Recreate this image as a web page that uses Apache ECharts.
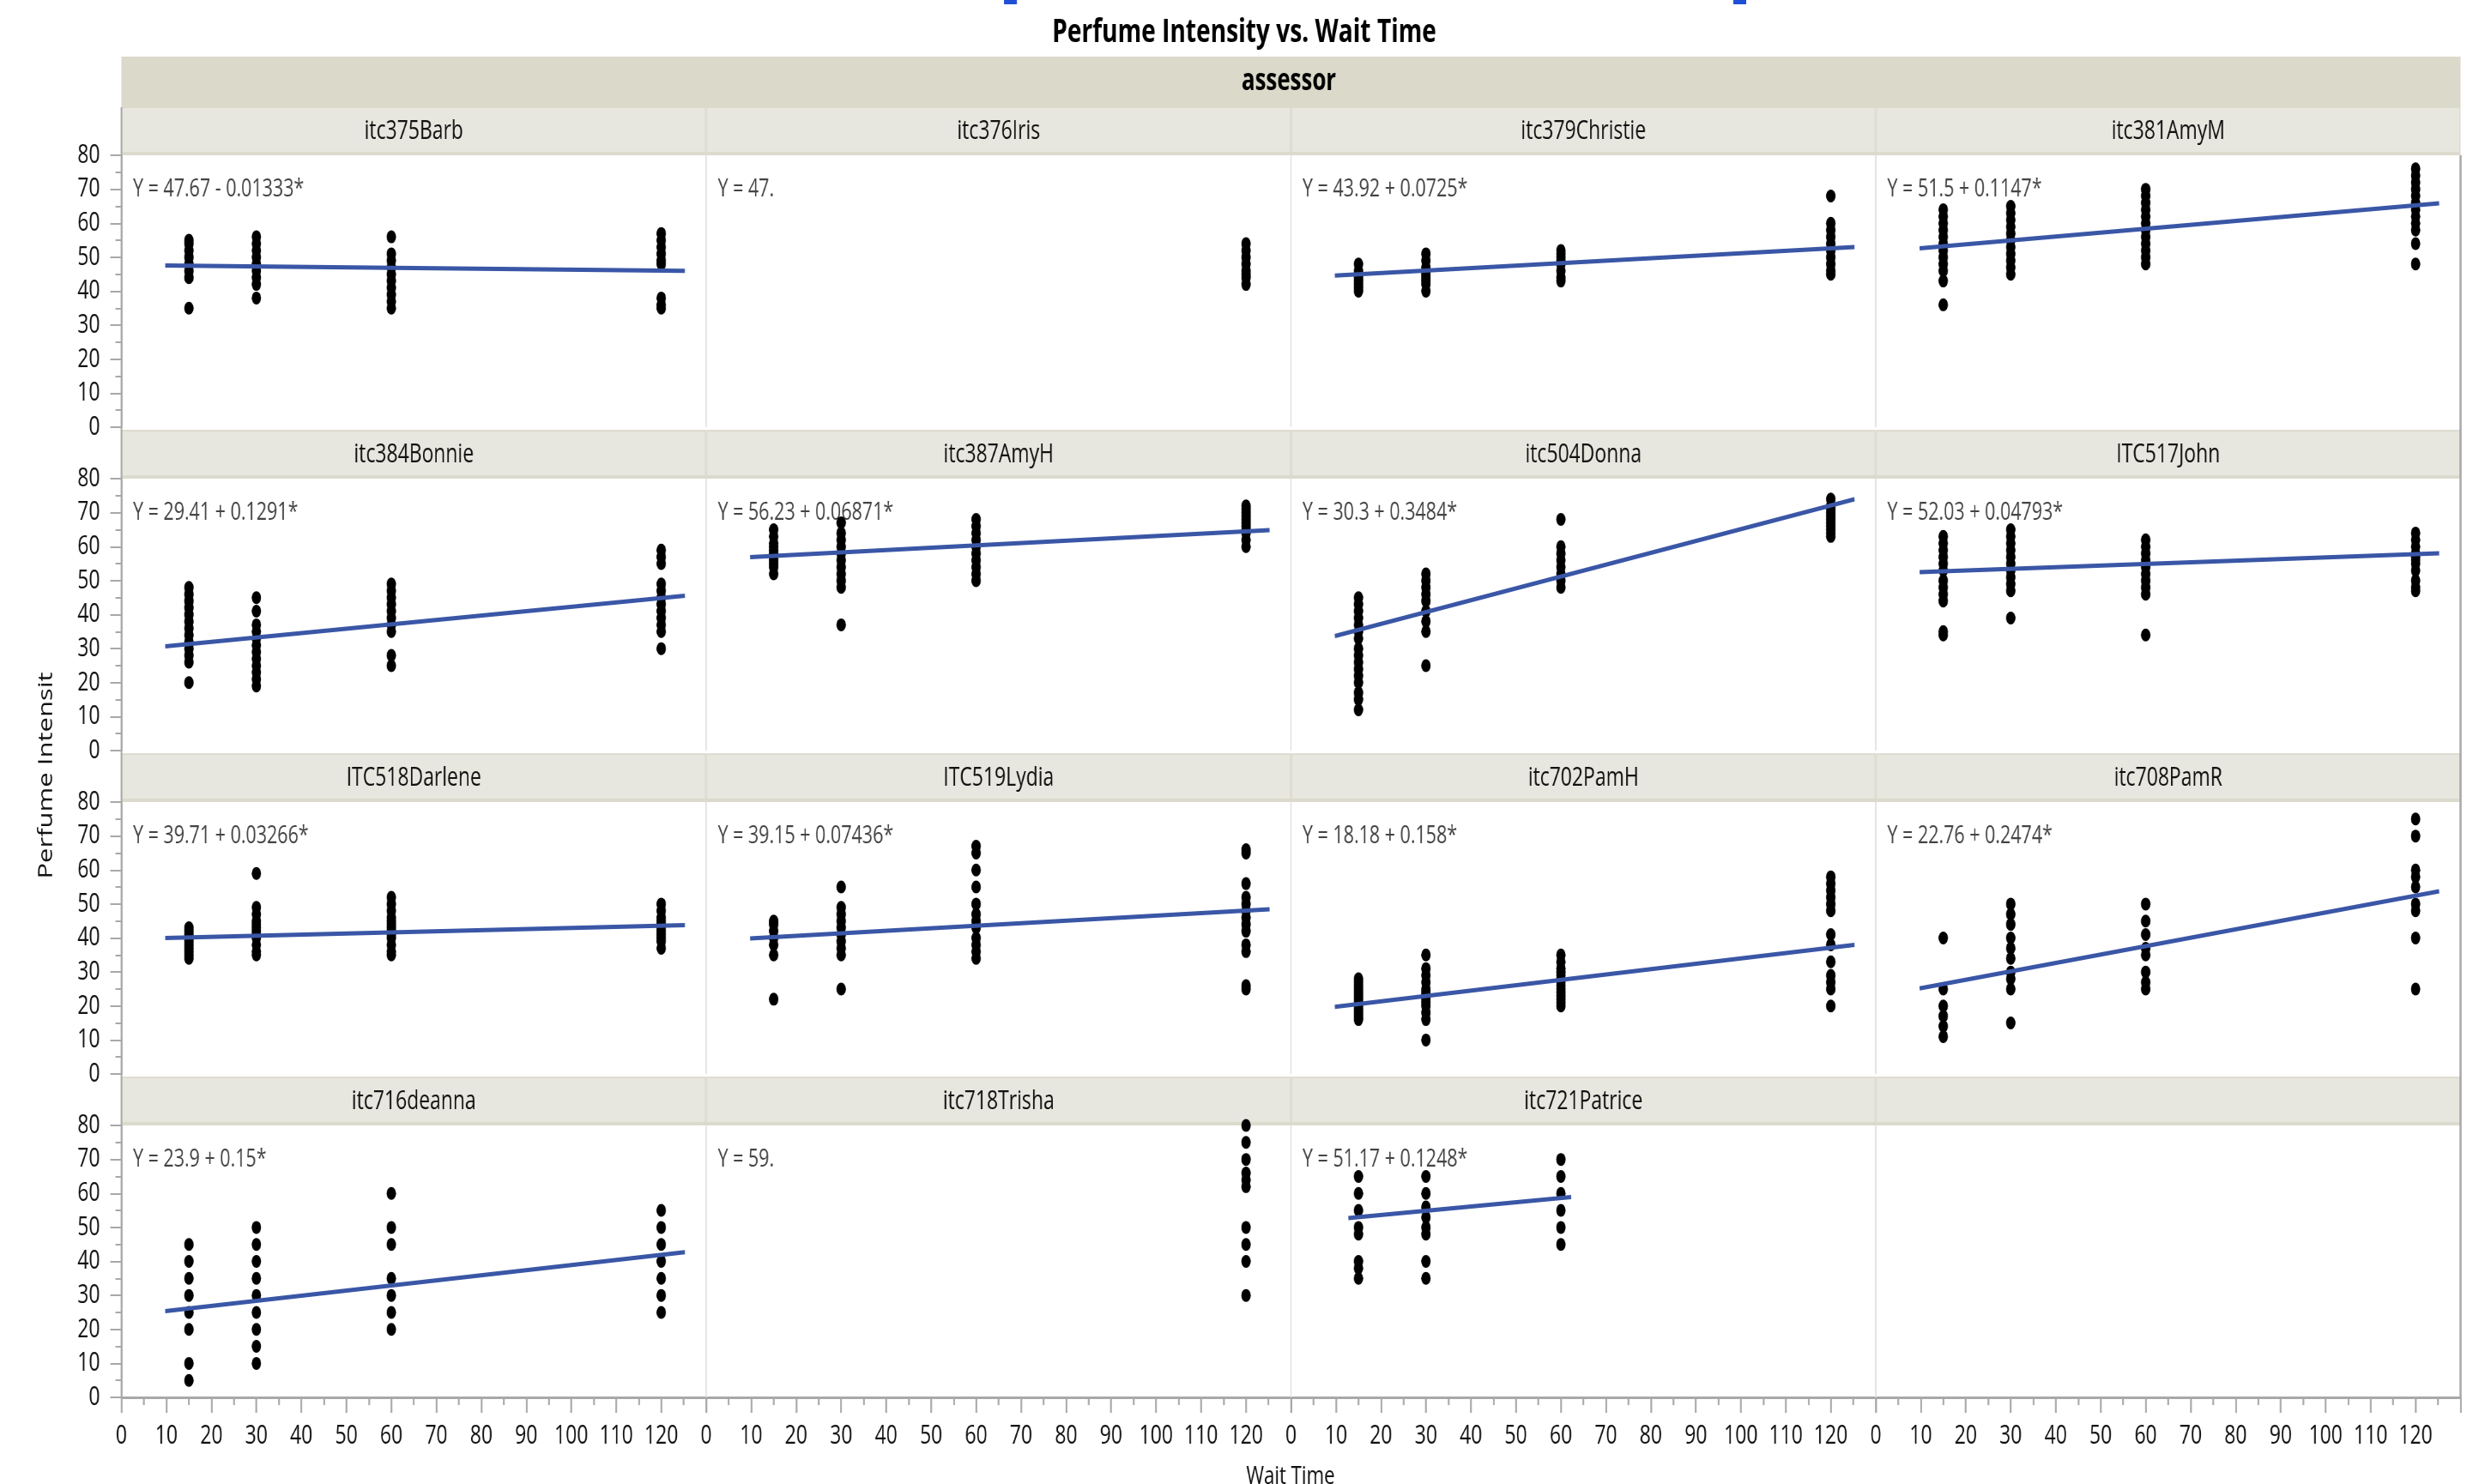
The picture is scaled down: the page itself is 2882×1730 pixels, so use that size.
<!DOCTYPE html>
<html><head><meta charset="utf-8">
<script src="https://cdn.jsdelivr.net/npm/echarts@6/dist/echarts.min.js"></script>
<style>
html,body{margin:0;padding:0;overflow:hidden;background:#fff;width:2882px;height:1730px;}
#chart{position:absolute;left:0;top:0;height:1730px;transform-origin:0 0;}
</style></head><body><div id="chart"></div>
<script>
// ---------------- DATA ----------------
const waitTimes = [15, 30, 60, 120];
const xTicks = [0, 10, 20, 30, 40, 50, 60, 70, 80, 90, 100, 110, 120];
const assessors = ['itc375Barb','itc376Iris','itc379Christie','itc381AmyM',
  'itc384Bonnie','itc387AmyH','itc504Donna','ITC517John',
  'ITC518Darlene','ITC519Lydia','itc702PamH','itc708PamR',
  'itc716deanna','itc718Trisha','itc721Patrice'];
// values at wait time 15 / 30 / 60 / 120
const barb     = [[55,54,52,50,48,46,44,35],[56,54,52,50,48,46,44,42,38],[56,51,49,47,45,43,41,39,37,35],[57,55,53,51,49,48,38,36,35]];
const iris     = [[],[],[],[54,52,50,48,46,45,44,42]];
const christie = [[48,46,45,44,43,42,41,40],[51,49,47,46,45,44,43,42,40],[52,51,50,49,48,46,44,43],[68,60,58,56,54,52,50,48,46,45]];
const amyM     = [[64,62,60,58,56,54,52,50,48,46,43,36],[65,63,61,59,57,55,53,51,49,47,45],[70,68,66,64,62,60,58,56,54,52,50,48],[76,74,72,70,68,66,64,62,60,58,54,48]];
const bonnie   = [[48,46,44,42,40,38,36,34,32,30,28,26,20],[45,41,37,35,33,31,29,27,25,23,21,19],[49,47,45,43,41,39,37,35,28,25],[59,57,55,49,47,45,43,41,39,37,35,30]];
const amyH     = [[65,63,61,60,59,58,57,56,55,54,52],[67,64,62,60,58,56,54,52,50,48,37],[68,66,64,62,60,58,56,54,52,50],[72,71,70,69,68,67,66,65,64,62,60]];
const donna    = [[45,43,41,39,37,35,33,30,28,26,24,22,20,17,15,12],[52,50,48,46,44,41,38,35,25],[68,60,58,56,54,52,50,48],[74,72,71,70,69,68,67,66,65,64,63]];
const john     = [[63,61,59,57,55,53,50,48,46,44,35,34],[65,63,61,59,57,55,53,51,49,47,39],[62,60,58,56,54,52,50,48,46,34],[64,62,60,58,57,56,55,53,50,48,47]];
const darlene  = [[43,42,41,40,39,38,37,36,35,34],[59,49,47,45,44,43,42,41,40,38,36,35],[52,50,48,46,45,44,43,42,41,40,38,36,35],[50,48,46,45,44,43,42,41,40,39,37]];
const lydia    = [[45,44,42,40,38,35,22],[55,49,47,45,43,41,39,37,35,25],[67,65,60,55,50,47,45,43,40,38,36,34],[66,65,56,52,50,48,46,44,42,38,36,26,25]];
const pamH     = [[28,27,26,25,24,23,22,21,20,19,18,17,16],[35,31,29,27,25,24,23,22,21,20,18,16,10],[35,33,31,30,29,28,27,26,25,24,23,22,21,20],[58,56,54,52,50,48,41,38,33,29,27,25,20]];
const pamR     = [[40,25,20,17,14,11],[50,47,44,40,37,34,30,28,25,15],[50,45,41,37,35,30,27,25],[75,70,60,58,55,50,48,40,25]];
const deanna   = [[45,40,35,30,25,20,10,5],[50,45,40,35,30,25,20,15,10],[60,50,45,35,30,25,20],[55,50,45,40,35,30,25]];
const trisha   = [[],[],[],[80,75,70,66,64,62,50,45,40,30]];
const patrice  = [[65,60,55,50,48,40,38,35],[65,60,56,53,50,48,40,35],[70,65,60,55,50,45],[]];
const panelValues = [barb, iris, christie, amyM, bonnie, amyH, donna, john, darlene, lydia, pamH, pamR, deanna, trisha, patrice];
// fitted lines (printed equations)
const intercepts = [47.67, null, 43.92, 51.5, 29.41, 56.23, 30.3, 52.03, 39.71, 39.15, 18.18, 22.76, 23.9, null, 51.17];
const slopes     = [-0.01333, null, 0.0725, 0.1147, 0.1291, 0.06871, 0.3484, 0.04793, 0.03266, 0.07436, 0.158, 0.2474, 0.15, null, 0.1248];
const lineStartX = [9.75, null, 9.75, 9.75, 9.75, 9.75, 9.75, 9.75, 9.75, 9.75, 9.75, 9.75, 9.75, null, 12.75];
const lineEndX   = [125.25, null, 125.25, 125.25, 125.25, 125.25, 125.25, 125.25, 125.25, 125.25, 125.25, 125.25, 125.25, null, 62.25];
const equations = ['Y = 47.67 - 0.01333*','Y = 47.','Y = 43.92 + 0.0725*','Y = 51.5 + 0.1147*',
  'Y = 29.41 + 0.1291*','Y = 56.23 + 0.06871*','Y = 30.3 + 0.3484*','Y = 52.03 + 0.04793*',
  'Y = 39.71 + 0.03266*','Y = 39.15 + 0.07436*','Y = 18.18 + 0.158*','Y = 22.76 + 0.2474*',
  'Y = 23.9 + 0.15*','Y = 59.','Y = 51.17 + 0.1248*'];

// ---------------- LAYOUT ----------------
const S = 0.74;                       // horizontal compression of the whole picture
const px = v => v / S;
const el = document.getElementById('chart');
el.style.width = (2882 / S) + 'px';
el.style.transform = 'scaleX(' + S + ')';
const FONT = "'Open Sans','Noto Sans',sans-serif";
const colX0 = [141.5, 823, 1504.5, 2186];
const panelW = 681.5;
const rowTop = [181, 558, 935, 1312];
const plotH = 317;
const AX = '#A8A8A8';

const grids = [], xAxes = [], yAxes = [], series = [], graphics = [];

for (let p = 0; p < 16; p++) {
  const r = Math.floor(p / 4), c = p % 4;
  grids.push({left: px(colX0[c]), top: rowTop[r], width: px(panelW), height: plotH,
    containLabel: false, outerBoundsMode: 'none'});
  const bottom = r === 3;
  xAxes.push({gridIndex: p, type: 'value', min: 0, max: 130, interval: 10,
    axisLine: {show: bottom, onZero: false, lineStyle: {color: AX, width: 3}},
    axisTick: {show: bottom, length: 18, lineStyle: {color: AX, width: 2 / S}},
    minorTick: {show: bottom, splitNumber: 2, length: 9, lineStyle: {color: AX, width: 2 / S}},
    axisLabel: {show: bottom, showMaxLabel: false, margin: 30, fontSize: 31, color: '#111', fontFamily: FONT,
      formatter: v => (xTicks.indexOf(v) >= 0 ? String(v) : '')},
    splitLine: {show: false}, minorSplitLine: {show: false}});
  const left = c === 0;
  yAxes.push({gridIndex: p, type: 'value', min: 0, max: 80, interval: 10,
    axisLine: {show: left, lineStyle: {color: AX, width: 2 / S}},
    axisTick: {show: left, length: 13 / S, lineStyle: {color: AX, width: 2}},
    minorTick: {show: left, splitNumber: 2, length: 7 / S, lineStyle: {color: AX, width: 2}},
    axisLabel: {show: left, margin: 25 / S, fontSize: 31, color: '#111', fontFamily: FONT},
    splitLine: {show: false}, minorSplitLine: {show: false}});

  // header strip
  graphics.push({type: 'rect', z: 1, silent: true,
    shape: {x: px(colX0[c]) + 1, y: rowTop[r] - 56, width: px(panelW) - 2, height: 55},
    style: {fill: '#E8E7DF', stroke: '#D8D6C8', lineWidth: 1.5}});
  graphics.push({type: 'rect', z: 1, silent: true,
    shape: {x: px(colX0[c]), y: rowTop[r] - 4, width: px(panelW), height: 4},
    style: {fill: '#DCDACD'}});

  if (p < 15) {
    const data = [];
    panelValues[p].forEach((vals, k) => vals.forEach(v => data.push([waitTimes[k], v])));
    series.push({type: 'scatter', xAxisIndex: p, yAxisIndex: p, data: data, symbol: 'circle',
      symbolSize: [11 / S, 15], itemStyle: {color: '#000', opacity: 1}, z: 3, silent: true});
    if (intercepts[p] !== null) {
      const a = intercepts[p], b = slopes[p];
      series.push({type: 'line', xAxisIndex: p, yAxisIndex: p, symbol: 'none', showSymbol: false, silent: true,
        data: [[lineStartX[p], a + b * lineStartX[p]], [lineEndX[p], a + b * lineEndX[p]]],
        lineStyle: {color: '#3A56A6', width: 5}, z: 4});
    }
    graphics.push({type: 'text', z: 2, silent: true, x: px(colX0[c] + panelW / 2), y: rowTop[r] - 28,
      style: {text: assessors[p], fill: '#111', font: '31px ' + FONT, align: 'center', verticalAlign: 'middle'}});
    graphics.push({type: 'text', z: 2, silent: true, x: px(colX0[c] + 13.5), y: rowTop[r] + 40,
      style: {text: equations[p], fill: '#444', font: '29px ' + FONT, align: 'left', verticalAlign: 'middle'}});
  }
}

// separators and borders
[823, 1504.5, 2186].forEach(x => {
  rowTop.forEach(t => graphics.push({type: 'line', z: 1, silent: true,
    shape: {x1: px(x), y1: t, x2: px(x), y2: t + plotH}, style: {stroke: '#E0E0E0', lineWidth: 1.5 / S}}));
});
graphics.push({type: 'line', z: 5, silent: true, shape: {x1: px(2867.5), y1: 181, x2: px(2867.5), y2: 1629},
  style: {stroke: AX, lineWidth: 2.5 / S}});
graphics.push({type: 'line', z: 5, silent: true, shape: {x1: px(141.5), y1: 125, x2: px(141.5), y2: 1629},
  style: {stroke: AX, lineWidth: 2 / S}});

// band and titles
graphics.push({type: 'rect', z: 1, silent: true, shape: {x: px(141.5), y: 66, width: px(2726), height: 59},
  style: {fill: '#DBD9CA'}});
graphics.push({type: 'text', z: 2, silent: true, x: px(1502), y: 95,
  style: {text: 'assessor', fill: '#000', font: 'bold 35px ' + FONT, align: 'center', verticalAlign: 'middle'}});
graphics.push({type: 'text', z: 2, silent: true, x: px(1450), y: 38,
  style: {text: 'Perfume Intensity vs. Wait Time', fill: '#000', font: 'bold 38px ' + FONT, align: 'center', verticalAlign: 'middle'}});
graphics.push({type: 'rect', z: 2, silent: true, shape: {x: px(1170), y: 0, width: px(15), height: 5}, style: {fill: '#1F4FD6'}});
graphics.push({type: 'rect', z: 2, silent: true, shape: {x: px(2020), y: 0, width: px(15), height: 5}, style: {fill: '#1F4FD6'}});
graphics.push({type: 'text', z: 2, silent: true, x: px(1504), y: 1721,
  style: {text: 'Wait Time', fill: '#111', font: '30px ' + FONT, align: 'center', verticalAlign: 'middle'}});
graphics.push({type: 'text', z: 2, silent: true, x: px(54), y: 904, rotation: Math.PI / 2,
  style: {text: 'Perfume Intensit', fill: '#111', font: '31px ' + FONT, align: 'center', verticalAlign: 'middle'}});

const chart = echarts.init(el, null, {renderer: 'canvas'});
chart.setOption({
  animation: false,
  backgroundColor: '#fff',
  grid: grids, xAxis: xAxes, yAxis: yAxes, series: series, graphic: graphics
});
</script></body></html>
